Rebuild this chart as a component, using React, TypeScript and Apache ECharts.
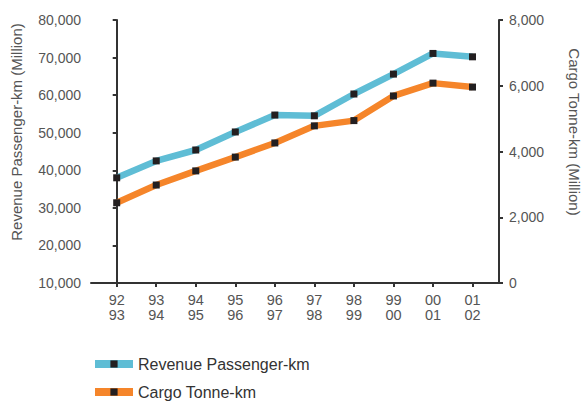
import React, { useEffect, useRef } from "react";
import * as echarts from "echarts";

// Fiscal-year categories (two-line labels)
const categories = ["92\n93", "93\n94", "94\n95", "95\n96", "96\n97", "97\n98", "98\n99", "99\n00", "00\n01", "01\n02"];
// Revenue passenger-km, million (left axis)
const passengerKm = [38000, 42500, 45400, 50200, 54700, 54500, 60300, 65600, 71100, 70200];
// Cargo tonne-km, million (right axis)
const cargoTonneKm = [2440, 2980, 3410, 3830, 4260, 4780, 4940, 5690, 6080, 5960];

const leftTicks = [10000, 20000, 30000, 40000, 50000, 60000, 70000, 80000];
const rightTicks = [0, 2000, 4000, 6000, 8000];

const FONT = "'Liberation Sans', Arial, Helvetica, sans-serif";
const AXIS_COLOR = "#333333";
const LABEL_COLOR = "#555555";
const CYAN = "#5fbdd5";
const ORANGE = "#f5852a";
const MARKER = "#231f20";

const fmt = (v: number) => v.toLocaleString("en-US");

export default function App() {
  const ref = useRef<HTMLDivElement>(null);

  useEffect(() => {
    if (!ref.current) return;
    const chart = echarts.init(ref.current, undefined, { renderer: "svg" });
    const idx = categories.map((_, i) => i);

    const axisLineStyle = { show: true, lineStyle: { color: AXIS_COLOR, width: 2 } };
    const tickStyle = { show: true, length: 4, lineStyle: { color: AXIS_COLOR, width: 2 } };

    chart.setOption({
      animation: false,
      textStyle: { fontFamily: FONT },
      grid: { left: 91, right: 82, top: 20, bottom: 122, containLabel: false },
      xAxis: {
        type: "value",
        min: -0.65,
        max: 9.67,
        splitLine: { show: false },
        axisLine: { ...axisLineStyle, onZero: false },
        axisTick: { ...tickStyle, customValues: idx },
        axisLabel: {
          customValues: idx,
          formatter: (v: number) => categories[Math.round(v)] ?? "",
          color: LABEL_COLOR,
          fontSize: 14.5,
          lineHeight: 14.5,
          margin: 10,
          fontFamily: FONT,
        },
      },
      yAxis: [
        {
          type: "value",
          min: 10000,
          max: 80000,
          interval: 10000,
          position: "left",
          splitLine: { show: false },
          axisLine: axisLineStyle,
          axisTick: tickStyle,
          axisLabel: {
            color: LABEL_COLOR,
            fontSize: 14,
            margin: 10,
            fontFamily: FONT,
            formatter: (v: number) => (leftTicks.includes(v) ? fmt(v) : ""),
          },
        },
        {
          type: "value",
          min: 0,
          max: 8000,
          interval: 2000,
          position: "right",
          splitLine: { show: false },
          axisLine: axisLineStyle,
          axisTick: tickStyle,
          axisLabel: {
            color: LABEL_COLOR,
            fontSize: 14,
            margin: 10,
            fontFamily: FONT,
            formatter: (v: number) => (rightTicks.includes(v) ? fmt(v) : ""),
          },
        },
      ],
      legend: {
        orient: "vertical",
        left: 91,
        top: 356,
        padding: 0,
        itemWidth: 38,
        itemHeight: 9,
        itemGap: 12,
        textStyle: { color: "#333333", fontSize: 16, fontFamily: FONT, padding: [0, 0, 0, 0] },
        lineStyle: { width: 8 },
        data: ["Revenue Passenger-km", "Cargo Tonne-km"],
      },
      series: [
        {
          name: "Revenue Passenger-km",
          type: "line",
          yAxisIndex: 0,
          data: passengerKm.map((v, i) => [i, v]),
          lineStyle: { color: CYAN, width: 6.5 },
          itemStyle: { color: MARKER },
          color: CYAN,
          symbol: "rect",
          symbolSize: 7,
          showAllSymbol: true,
        },
        {
          name: "Cargo Tonne-km",
          type: "line",
          yAxisIndex: 1,
          data: cargoTonneKm.map((v, i) => [i, v]),
          lineStyle: { color: ORANGE, width: 6.5 },
          itemStyle: { color: MARKER },
          color: ORANGE,
          symbol: "rect",
          symbolSize: 7,
          showAllSymbol: true,
        },
      ],
      graphic: [
        {
          type: "text",
          x: 16,
          y: 132,
          rotation: Math.PI / 2,
          style: {
            text: "Revenue Passenger-km (Million)",
            align: "center",
            verticalAlign: "middle",
            fill: LABEL_COLOR,
            font: `15px ${FONT}`,
          },
        },
        {
          type: "text",
          x: 574,
          y: 132,
          rotation: -Math.PI / 2,
          style: {
            text: "Cargo Tonne-km (Million)",
            align: "center",
            verticalAlign: "middle",
            fill: LABEL_COLOR,
            font: `15px ${FONT}`,
          },
        },
      ],
    });

    return () => chart.dispose();
  }, []);

  return (
    <div
      ref={ref}
      style={{ position: "fixed", left: 0, top: 0, width: 581, height: 405, background: "#ffffff" }}
    />
  );
}
